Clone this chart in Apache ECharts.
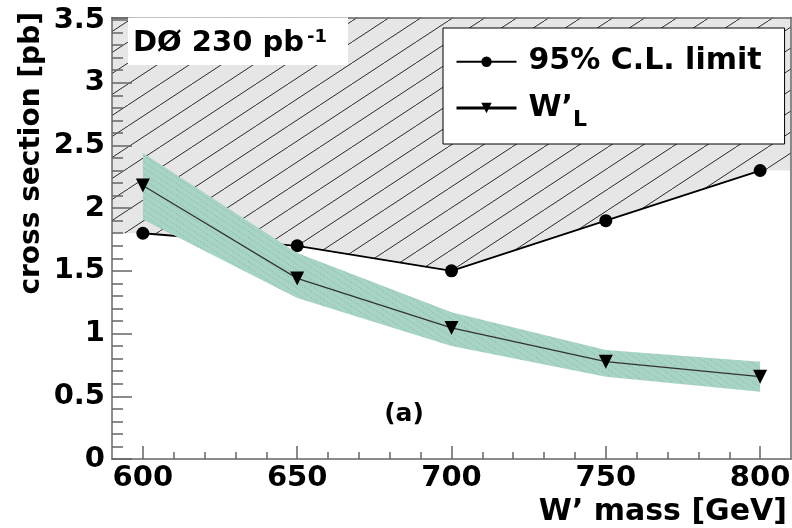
<!DOCTYPE html>
<html><head><meta charset="utf-8">
<script src="https://cdn.jsdelivr.net/npm/echarts@6/dist/echarts.min.js"></script>
<style>html,body{margin:0;padding:0;background:#fff}#c{width:792px;height:528px}</style>
</head><body><div id="c"></div>
<script>
// ---- data ----
const masses = [600, 650, 700, 750, 800];
const limitXsec = [1.8, 1.7, 1.5, 1.9, 2.3];
const wprimeXsec = [2.18, 1.44, 1.045, 0.776, 0.656];
const bandUpper = [2.44, 1.643, 1.17, 0.87, 0.776];
const bandLower = [1.91, 1.284, 0.90, 0.656, 0.537];
const xMajorTicks = [600, 650, 700, 750, 800];
const xMinorTicks = [610, 620, 630, 640, 660, 670, 680, 690, 710, 720, 730, 740, 760, 770, 780, 790];
const yTickLabels = [0, 0.5, 1, 1.5, 2, 2.5, 3, 3.5];
const xRange = [590, 810];
const yRange = [0, 3.52];
const limitName = '95% C.L. limit';
const wName = 'W’L';
const xTitle = 'W’ mass [GeV]';
const yTitle = 'cross section [pb]';
const expLabel = 'DØ 230 pb';
const expSup = '-1';
const panelLabel = '(a)';

const FF = '"DejaVu Sans"';

function makeHatch(w, h, bg, stroke, lw, dash, up) {
  const c = document.createElement('canvas');
  c.width = w; c.height = h;
  const g = c.getContext('2d');
  g.fillStyle = bg; g.fillRect(0, 0, w, h);
  g.strokeStyle = stroke; g.lineWidth = lw;
  if (dash) g.setLineDash(dash);
  for (let k = -1; k <= 1; k++) {
    g.beginPath();
    if (up) { g.moveTo(k * w, h); g.lineTo(k * w + w, 0); }
    else { g.moveTo(k * w, 0); g.lineTo(k * w + w, h); }
    g.stroke();
  }
  return c;
}
const grayPattern = { image: makeHatch(32, 21, '#e6e6e6', '#2a2a2a', 1, null, true), repeat: 'repeat' };
const bandPattern = { image: makeHatch(9, 6, '#a8d4c6', 'rgba(70,110,100,0.45)', 0.8, [1, 2], false), repeat: 'repeat' };

// polygons built from the data arrays
const regionX = [xRange[0]].concat(masses, [xRange[1], xRange[1], xRange[0]]);
const regionY = [limitXsec[0]].concat(limitXsec, [limitXsec[limitXsec.length - 1], yRange[1], yRange[1]]);
const bandX = masses.concat(masses.slice().reverse());
const bandY = bandUpper.concat(bandLower.slice().reverse());

const chart = echarts.init(document.getElementById('c'), null, { renderer: 'canvas' });
const axisGray = '#666';
const labelStyle = { fontFamily: FF, fontWeight: 'bold', fontSize: 29, color: '#000' };

chart.setOption({
  animation: false,
  backgroundColor: '#fff',
  grid: { left: 112, right: 1, top: 17.5, bottom: 69, outerBoundsMode: 'none', containLabel: false },
  xAxis: [
    { type: 'value', min: xRange[0], max: xRange[1], position: 'bottom', z: 10,
      axisLine: { show: true, lineStyle: { color: axisGray, width: 1.5 } },
      axisTick: { show: true, inside: true, length: 13, customValues: xMajorTicks, lineStyle: { color: axisGray, width: 1.5 } },
      axisLabel: Object.assign({ customValues: xMajorTicks, margin: 5 }, labelStyle),
      splitLine: { show: false } },
    { type: 'value', min: xRange[0], max: xRange[1], position: 'bottom', z: 10,
      axisLine: { show: false },
      axisTick: { show: true, inside: true, length: 7, customValues: xMinorTicks, lineStyle: { color: axisGray, width: 1.5 } },
      axisLabel: { show: false }, splitLine: { show: false } },
    { type: 'value', min: xRange[0], max: xRange[1], position: 'top', z: 10,
      axisLine: { show: true, lineStyle: { color: axisGray, width: 1.5 } },
      axisTick: { show: false }, axisLabel: { show: false }, splitLine: { show: false } }
  ],
  yAxis: [
    { type: 'value', min: yRange[0], max: yRange[1], interval: 0.5, position: 'left', z: 10,
      axisLine: { show: true, lineStyle: { color: axisGray, width: 1.5 } },
      axisTick: { show: true, inside: true, length: 20, lineStyle: { color: axisGray, width: 1.5 } },
      minorTick: { show: true, splitNumber: 5, length: 11, lineStyle: { color: axisGray, width: 1.5 } },
      axisLabel: Object.assign({ customValues: yTickLabels, margin: 7, padding: [6, 0, 0, 0] }, labelStyle),
      splitLine: { show: false }, minorSplitLine: { show: false } },
    { type: 'value', min: yRange[0], max: yRange[1], position: 'right', z: 10,
      axisLine: { show: true, lineStyle: { color: axisGray, width: 1.5 } },
      axisTick: { show: false }, axisLabel: { show: false }, splitLine: { show: false } }
  ],
  legend: {
    data: [
      { name: limitName },
      { name: wName, lineStyle: { color: '#000', width: 3 } }
    ],
    left: 443, top: 28, orient: 'vertical',
    padding: [15.7, 23, 13, 12],
    itemGap: 10.3, itemWidth: 60, itemHeight: 13,
    backgroundColor: '#fff', borderColor: '#000', borderWidth: 1, borderRadius: 0,
    selectedMode: false, z: 20,
    textStyle: {
      fontFamily: FF, fontWeight: 'bold', fontSize: 30, color: '#000', lineHeight: 36, padding: [0, 0, 0, 7],
      rich: {
        w: { fontFamily: FF, fontWeight: 'bold', fontSize: 30, color: '#000' },
        sub: { fontFamily: FF, fontWeight: 'bold', fontSize: 22, color: '#000', padding: [18, 0, -6, 0] }
      }
    },
    formatter: n => n === wName ? '{w|W’}{sub|L}' : n
  },
  series: [
    { type: 'custom', name: 'excluded', z: 1, silent: true,
      data: [[masses[0], limitXsec[0]]],
      renderItem: (params, api) => ({
        type: 'polygon',
        shape: { points: regionX.map((x, i) => api.coord([x, regionY[i]])) },
        style: { fill: grayPattern, stroke: null }
      }) },
    { type: 'line', name: limitName, z: 3,
      data: masses.map((m, i) => [m, limitXsec[i]]),
      symbol: 'circle', symbolSize: 13,
      itemStyle: { color: '#000' }, lineStyle: { color: '#000', width: 1.8 } },
    { type: 'custom', name: 'band', z: 4, silent: true,
      data: [[masses[0], bandUpper[0]]],
      renderItem: (params, api) => ({
        type: 'polygon',
        shape: { points: bandX.map((x, i) => api.coord([x, bandY[i]])) },
        style: { fill: bandPattern, stroke: null }
      }) },
    { type: 'line', name: wName, z: 5,
      data: masses.map((m, i) => [m, wprimeXsec[i]]),
      symbol: 'triangle', symbolRotate: 180, symbolSize: 14,
      itemStyle: { color: '#000' }, lineStyle: { color: '#333', width: 1.2 } }
  ],
  graphic: [
    { type: 'rect', z: 30, shape: { x: 128, y: 17.5, width: 220, height: 47.5 }, style: { fill: '#fff' } },
    { type: 'text', z: 31, x: 133, y: 43,
      style: { text: '{a|' + expLabel + '}{s|' + expSup + '}', verticalAlign: 'middle', align: 'left',
        rich: {
          a: { fontFamily: FF, fontWeight: 'bold', fontSize: 29, fill: '#000' },
          s: { fontFamily: FF, fontWeight: 'bold', fontSize: 18, fill: '#000', padding: [0, 0, 12, 3] }
        } } },
    { type: 'text', z: 31, x: 32, y: 12, rotation: Math.PI / 2,
      style: { text: yTitle, align: 'right', verticalAlign: 'middle', font: 'bold 28px ' + FF, fill: '#000' } },
    { type: 'text', z: 31, x: 787, y: 512.5,
      style: { text: xTitle, align: 'right', verticalAlign: 'middle', font: 'bold 30px ' + FF, fill: '#000' } },
    { type: 'text', z: 31, x: 404, y: 414,
      style: { text: panelLabel, align: 'center', verticalAlign: 'middle', font: 'bold 25px ' + FF, fill: '#000' } }
  ]
});
</script>
</body></html>
